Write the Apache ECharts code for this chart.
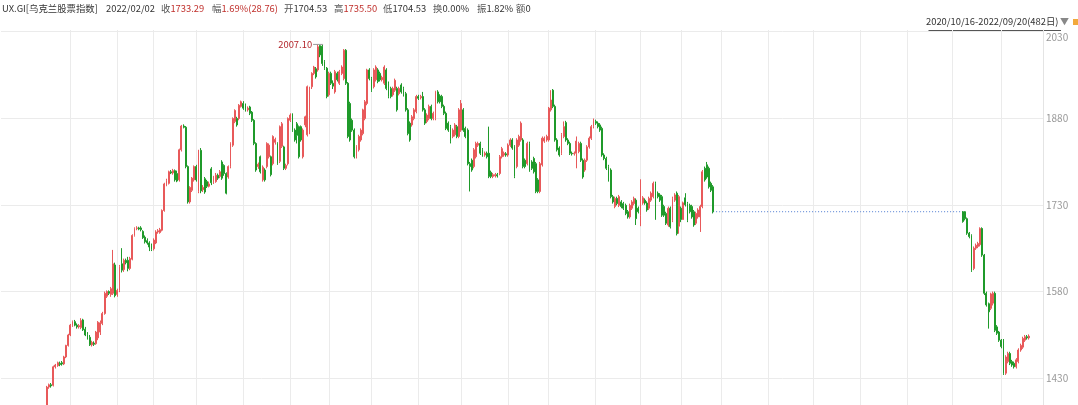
<!DOCTYPE html>
<html><head><meta charset="utf-8">
<script src="https://cdn.jsdelivr.net/npm/echarts@6/dist/echarts.min.js"></script>
<style>html,body{margin:0;padding:0;background:#fff}#c{width:1078px;height:405px}</style>
</head><body><div id="c"></div>
<script>
const FONT = '"Noto Sans CJK SC","Microsoft YaHei",sans-serif';

// trading calendar
const firstDay = [2020, 10, 16];
const lastDay = [2022, 9, 20];
const holidays = ['2020/12/25','2021/01/01','2021/01/04','2021/01/07','2021/01/08','2021/03/08',
  '2021/05/03','2021/05/04','2021/05/10','2021/06/21','2021/06/28','2021/08/23','2021/08/24',
  '2021/10/14','2021/10/15','2021/12/27','2021/12/31','2022/01/03','2022/01/07','2022/02/24','2022/03/08'];

// y-axis tick labels
const yTicks = [1430, 1580, 1730, 1880, 2030];

// header (selected day) and its labels
const headerItems = [
  ['', 'UX.GI[乌克兰股票指数]', 'n'],
  ['', '2022/02/02', 'n'],
  ['收', '1733.29', 'r'],
  ['幅', '1.69%(28.76)', 'r'],
  ['开', '1704.53', 'n'],
  ['高', '1735.50', 'r'],
  ['低', '1704.53', 'n'],
  ['换', '0.00%', 'n'],
  ['振', '1.82%', 'n'],
  ['额', '0', 'n']
];

// OHLC as [open, close, low, high] — before trading halt
const tradeBefore = [
[1330,1335,1326,1338],[1335,1332,1329,1338],[1332,1338,1330,1341],[1338,1342,1335,1345],[1342,1340,1337,1345],
[1340,1345,1338,1348],[1345,1350,1343,1353],[1350,1348,1345,1353],[1348,1352,1346,1355],[1352,1355,1350,1358],
[1355,1351,1348,1358],[1351,1357,1349,1360],[1357,1360,1355,1363],[1360,1358,1355,1363],[1358,1362,1356,1365],
[1362,1365,1360,1368],[1365,1361,1358,1368],[1361,1366,1359,1369],[1366,1370,1364,1373],[1370,1368,1365,1373],
[1368,1372,1366,1376],
[1372,1415,1370,1417],[1415,1419,1412,1421],[1419,1417,1414,1422],[1418,1450,1416,1452],[1450,1453,1447,1455],
[1452,1457,1450,1459],[1456,1454,1451,1459],[1457,1455,1452,1460],[1455,1467,1453,1469],[1467,1487,1465,1488],
[1487,1505,1485,1507],[1505,1522,1503,1524],[1522,1528,1519,1530],[1528,1522,1520,1531],[1522,1519,1516,1525],
[1519,1521,1516,1524],[1518,1530,1515,1534],[1531,1514,1512,1533],[1515,1505,1503,1519],[1506,1500,1497,1510],
[1501,1488,1486,1505],[1488,1492,1485,1495],[1491,1489,1486,1494],[1490,1510,1488,1512],[1500,1527,1496,1529],
[1510,1526,1505,1530],[1525,1542,1522,1545],[1542,1577,1540,1580],[1572,1580,1569,1582],[1580,1577,1574,1582],
[1575,1585,1571,1588],[1577,1628,1574,1652],[1626,1573,1570,1630],[1575,1582,1571,1585],[1582,1623,1579,1626],
[1628,1617,1613,1655],[1618,1634,1614,1637],[1634,1630,1627,1637],[1634,1620,1615,1640],[1620,1637,1617,1640],
[1636,1677,1634,1679],[1677,1689,1675,1691],[1689,1690,1686,1693],[1690,1688,1686,1692],[1690,1687,1684,1693],
[1684,1673,1671,1686],[1674,1666,1663,1677],[1668,1664,1661,1672],[1664,1657,1650,1667],[1660,1653,1650,1663],
[1654,1669,1651,1672],[1664,1683,1662,1686],[1683,1685,1680,1688],[1682,1687,1680,1690],[1686,1720,1684,1722],
[1720,1766,1718,1768],[1764,1772,1762,1775],[1767,1787,1765,1789],[1787,1785,1783,1790],[1785,1789,1782,1792],
[1789,1773,1770,1791],[1784,1771,1769,1789],[1773,1825,1770,1827],[1825,1866,1822,1868],[1866,1864,1862,1869],
[1864,1796,1793,1866],[1796,1735,1732,1798],[1735,1760,1732,1762],[1755,1776,1752,1778],[1773,1796,1770,1798],
[1796,1773,1770,1799],[1753,1790,1750,1825],[1824,1754,1750,1828],[1756,1760,1752,1764],[1775,1752,1749,1778],
[1770,1762,1759,1773],[1762,1766,1760,1770],[1792,1768,1764,1795],[1768,1778,1766,1780],[1770,1781,1768,1785],
[1781,1776,1773,1784],
[1779,1787,1776,1790],[1804,1776,1773,1807],[1798,1784,1780,1800],[1784,1750,1748,1786],[1778,1796,1775,1798],
[1796,1836,1793,1838],[1833,1879,1830,1881],[1874,1893,1871,1895],[1879,1868,1865,1882],[1879,1902,1876,1904],
[1900,1908,1898,1910],[1905,1897,1894,1909],[1902,1894,1891,1905],[1894,1897,1891,1900],[1899,1888,1885,1901],
[1890,1876,1873,1892],[1876,1836,1833,1878],[1836,1790,1787,1838],[1796,1800,1792,1803],[1813,1787,1784,1815],
[1773,1795,1770,1798],[1790,1773,1770,1793],[1796,1836,1793,1838],[1813,1833,1810,1836],[1813,1782,1779,1815],
[1801,1848,1798,1850],[1838,1843,1834,1846],[1836,1802,1799,1838],[1805,1865,1802,1867],[1831,1870,1828,1873],
[1830,1793,1790,1832],[1793,1798,1790,1801],[1801,1879,1798,1881],[1876,1885,1873,1888],[1885,1859,1856,1888],
[1859,1842,1839,1862],[1870,1850,1836,1873],[1865,1813,1810,1867],[1865,1842,1839,1867],[1813,1859,1810,1862],
[1868,1882,1864,1884],[1851,1934,1848,1936],[1885,1928,1852,1934],[1934,1957,1930,1959],[1957,1968,1954,1970],
[1965,1951,1948,1968],[1963,2003,1960,2007.1],[2005,1989,1985,2006],[2004,1974,1970,2006],[1977,1966,1963,1980],
[1966,1917,1914,1968],[1920,1957,1917,1960],[1957,1940,1937,1960],[1940,1935,1930,1945],[1925,1960,1922,1963],
[1957,1946,1943,1960],[1940,1960,1937,1963],[1957,1968,1954,1971],[1948,1997,1945,1999],[1997,1940,1937,1999],
[1940,1848,1845,1942],[1905,1842,1839,1908],[1876,1859,1856,1879],[1859,1813,1810,1862],[1813,1830,1810,1833],
[1825,1848,1822,1851],[1842,1859,1839,1862],[1853,1894,1850,1896],[1879,1908,1876,1911],[1905,1963,1902,1965],
[1963,1948,1945,1966],[1948,1928,1925,1951],[1934,1963,1931,1966],[1946,1968,1943,1971],[1963,1943,1940,1966],
[1957,1946,1943,1960],[1946,1950,1943,1953],[1940,1968,1937,1971],[1963,1931,1928,1966],[1940,1917,1914,1943],
[1931,1917,1914,1934],[1920,1931,1917,1934],[1928,1945,1925,1948],[1931,1894,1891,1934],[1922,1931,1919,1934],
[1937,1925,1922,1940],[1931,1920,1917,1934],[1922,1894,1891,1925],[1894,1853,1850,1897],[1871,1842,1839,1874],
[1868,1882,1865,1885],[1879,1894,1876,1897],[1891,1917,1888,1920],[1917,1914,1911,1920],[1915,1917,1912,1920],
[1917,1894,1891,1925],[1894,1871,1868,1897],[1874,1885,1871,1888],[1879,1900,1876,1903],[1900,1879,1876,1903],
[1879,1888,1876,1891],[1879,1925,1876,1927],[1925,1908,1905,1928],[1918,1908,1905,1921],[1917,1900,1897,1920],
[1900,1888,1885,1903],[1888,1862,1859,1891],[1871,1859,1856,1874],[1865,1839,1836,1868],[1848,1859,1845,1862],
[1851,1868,1848,1871],[1865,1848,1845,1868],[1848,1894,1845,1897],[1859,1905,1856,1911],[1894,1859,1856,1897],
[1862,1848,1845,1865],[1859,1801,1798,1862],[1801,1796,1753,1804],[1807,1790,1787,1810],[1796,1825,1793,1828],
[1813,1836,1810,1839],[1833,1836,1830,1839],[1836,1819,1816,1839],[1825,1816,1813,1828],[1816,1819,1813,1822],
[1819,1813,1810,1822],[1819,1779,1776,1865],[1786,1779,1776,1789],[1779,1782,1776,1785],[1780,1782,1777,1785],
[1782,1780,1777,1785],[1784,1813,1781,1816],[1813,1827,1810,1830],[1816,1819,1813,1822],[1818,1816,1813,1821],
[1816,1833,1813,1836],[1833,1842,1830,1845],[1842,1828,1825,1845],[1830,1779,1776,1833],[1796,1842,1793,1845],
[1833,1848,1830,1851],[1842,1871,1839,1874],[1842,1796,1793,1845],[1807,1796,1793,1810],[1801,1836,1798,1839],
[1836,1790,1787,1839],[1804,1793,1790,1807],[1810,1787,1784,1813],[1801,1753,1750,1804],[1773,1753,1750,1776],
[1753,1801,1750,1804],[1799,1845,1796,1848],[1840,1845,1837,1848],[1842,1848,1839,1851],[1842,1897,1839,1899],
[1894,1911,1891,1928],[1928,1900,1897,1930],[1900,1842,1839,1903],[1842,1825,1822,1845],[1828,1816,1813,1831],
[1819,1851,1816,1854],[1848,1865,1845,1874],[1872,1842,1839,1875],[1842,1836,1833,1845],[1836,1819,1816,1839],
[1819,1818,1815,1822],[1818,1819,1815,1822],[1819,1840,1793,1848],[1822,1836,1819,1839],
[1836,1807,1804,1839],[1807,1778,1775,1810],[1790,1807,1787,1810],[1807,1830,1804,1833],[1830,1845,1827,1848],
[1845,1865,1842,1868],[1865,1876,1862,1879],[1874,1871,1868,1877],[1871,1865,1862,1874],[1868,1859,1856,1871],
[1862,1816,1813,1865],[1816,1810,1807,1819],[1810,1793,1790,1813],[1796,1773,1770,1799],[1790,1744,1741,1793],
[1744,1735,1732,1747],[1727,1741,1724,1744],[1741,1732,1729,1744],[1729,1744,1726,1747],[1735,1727,1724,1738],
[1732,1724,1721,1735],[1729,1715,1712,1732],[1718,1709,1706,1721],[1709,1729,1706,1732],[1724,1735,1721,1738],
[1732,1741,1729,1744],[1738,1706,1695,1741],[1724,1718,1715,1727],[1712,1740,1693,1774],[1733,1742,1730,1745],
[1738,1733,1730,1741],[1733,1721,1718,1736],[1724,1741,1721,1744],[1738,1750,1735,1753],[1744,1767,1741,1770],
[1767,1747,1704,1770],[1750,1744,1741,1753],[1747,1738,1735,1750],[1744,1712,1709,1747],[1727,1712,1709,1730],
[1715,1698,1695,1718],[1695,1724,1692,1727],[1724,1692,1689,1727],[1703,1741,1700,1744],[1738,1747,1735,1750],
[1750,1680,1677,1753],[1693,1744,1680,1747],[1724,1704.53,1700,1727],[1704.53,1733.29,1704.53,1735.5],[1742,1730,1727,1750],
[1732,1703,1700,1735],[1729,1718,1715,1732],[1727,1709,1706,1730],[1718,1695,1692,1721],[1698,1715,1695,1718],
[1709,1721,1706,1724],[1709,1727,1683,1730],[1727,1787,1724,1790],[1793,1773,1770,1796],[1799,1778,1775,1804],
[1793,1761,1758,1796],[1767,1755,1752,1770],[1761,1718,1715,1764]
];

// level of the flat (no trading) stretch
const haltLevel = 1718;

// OHLC after trading resumed
const tradeAfter = [
[1718,1701,1699,1719],[1718,1706,1703,1719],[1706,1681,1678,1708],[1681,1675,1672,1683],[1677,1617,1614,1679],
[1620,1655,1617,1658],[1655,1660,1652,1663],[1658,1663,1655,1666],[1661,1689,1658,1691],[1689,1643,1640,1691],
[1643,1577,1574,1645],[1577,1557,1554,1580],[1559,1545,1516,1561],[1551,1576,1548,1578],[1560,1577,1556,1580],
[1577,1513,1510,1580],[1519,1508,1505,1522],[1510,1496,1493,1512],[1496,1485,1482,1498],[1496,1439,1436,1498],
[1439,1467,1436,1470],[1459,1473,1456,1476],[1473,1456,1453,1476],[1459,1453,1450,1462],[1456,1450,1447,1459],
[1450,1462,1447,1465],[1459,1479,1456,1482],[1479,1487,1476,1490],[1484,1499,1481,1502],[1496,1502,1493,1505],
[1502,1500,1497,1505],[1500,1503,1497,1506]
];

function fmt(d){return d.getUTCFullYear()+'/'+String(d.getUTCMonth()+1).padStart(2,'0')+'/'+String(d.getUTCDate()).padStart(2,'0');}
function buildDates(){
  const hol = new Set(holidays), out = [];
  let t = Date.UTC(firstDay[0], firstDay[1]-1, firstDay[2]);
  const end = Date.UTC(lastDay[0], lastDay[1]-1, lastDay[2]);
  for (; t <= end; t += 86400000){
    const d = new Date(t), wd = d.getUTCDay(), s = fmt(d);
    if (wd !== 0 && wd !== 6 && !hol.has(s)) out.push(s);
  }
  return out;
}
const dates = buildDates();
const nHalt = dates.length - tradeBefore.length - tradeAfter.length;
const candleData = tradeBefore.concat(new Array(nHalt).fill('-'), tradeAfter);
const haltData = dates.map((d, i) => (i >= tradeBefore.length - 1 && i <= tradeBefore.length + nHalt) ? haltLevel : '-');
const xData = dates.concat(['p1','p2','p3','p4','p5','p6']);

let maxI = 0, maxH = -Infinity;
candleData.forEach((c, i) => { if (c !== '-' && c[3] > maxH) { maxH = c[3]; maxI = i; } });

const monthLines = [];
for (let i = 20; i < dates.length; i++) if (dates[i].slice(0,7) !== dates[i-1].slice(0,7)) monthLines.push({xAxis: dates[i]});
const hLines = yTicks.map(v => ({yAxis: v}));

const UP = '#e8595a', DOWN = '#1f9a2a';
const FS = 9.4;
const headerX = [2, 106, 161, 212, 284, 334, 383, 433, 477, 516];
const graphics = headerItems.map((h, k) => ({
  type: 'text', left: headerX[k], top: 4, silent: true,
  style: {
    text: (h[0] ? '{l|' + h[0] + '}' : '') + '{' + h[2] + '|' + h[1] + '}',
    font: FS + 'px ' + FONT,
    rich: {
      l: {fill: '#555', fontSize: FS, fontFamily: FONT},
      n: {fill: '#333', fontSize: FS, fontFamily: FONT},
      r: {fill: '#c0302c', fontSize: FS, fontFamily: FONT}
    }
  }
}));
const rangeText = dates[0] + '-' + dates[dates.length-1] + '(' + dates.length + '日)';
graphics.push(
  {type: 'text', left: 926, top: 17, silent: true,
   style: {text: rangeText, fill: '#333', font: FS + 'px ' + FONT}},
  {type: 'text', left: 1060, top: 17, silent: true, style: {text: '▼', fill: '#888', font: '9px ' + FONT}},
  {type: 'rect', left: 1073, top: 19, silent: true, shape: {width: 5, height: 6}, style: {fill: '#f2a93b'}}
);

const chart = echarts.init(document.getElementById('c'), null, {renderer: 'canvas'});
chart.setOption({
  animation: false,
  backgroundColor: '#fff',
  grid: {left: 1, right: 35, top: 30, bottom: 0},
  xAxis: {type: 'category', data: xData, boundaryGap: true,
    axisLine: {show: false}, axisTick: {show: false}, axisLabel: {show: false}, splitLine: {show: false}},
  yAxis: {type: 'value', position: 'right', min: 1384, max: 2032, scale: true,
    axisLine: {show: true, lineStyle: {color: '#e4e4e4'}}, axisTick: {show: false}, splitLine: {show: false},
    axisLabel: {customValues: yTicks, color: '#999', fontSize: 10, fontFamily: FONT, margin: 3,
      formatter: v => v === 2030 ? '{t|2030}' : String(v),
      rich: {t: {padding: [12, 0, 0, 0], color: '#999', fontSize: 10, fontFamily: FONT}}}},
  graphic: graphics,
  series: [
    {type: 'line', data: haltData, symbol: 'none', z: 1, silent: true,
     lineStyle: {color: '#4a78d0', width: 1, type: [1, 2]},
     markLine: {silent: true, symbol: 'none', z: 0, animation: false, label: {show: false},
       lineStyle: {color: '#ebebeb', width: 1, type: 'solid'},
       data: hLines.concat(monthLines)}},
    {type: 'candlestick', data: candleData, barWidth: 1.4, z: 3,
     itemStyle: {color: UP, color0: DOWN, borderColor: UP, borderColor0: DOWN, borderWidth: 1},
     markPoint: {symbol: 'rect', symbolSize: [10, 1], silent: true, animation: false,
       itemStyle: {color: '#999'},
       label: {show: true, position: 'left', distance: 1, color: '#b3262b', fontSize: FS, fontFamily: FONT,
         formatter: p => Number(p.value).toFixed(2)},
       data: [{coord: [dates[maxI], maxH], value: maxH}]}}
  ]
});
// underline for the range text
const el = chart.getZr().storage.getDisplayList().find(e => e.style && e.style.text === rangeText);
let w = 131;
if (el && el.getBoundingRect) w = el.getBoundingRect().width;
chart.setOption({graphic: graphics.concat([{type: 'line', left: 926, top: 28, silent: true,
  shape: {x1: 0, y1: 0, x2: w, y2: 0}, style: {stroke: '#555', lineWidth: 1}}])});
</script></body></html>
